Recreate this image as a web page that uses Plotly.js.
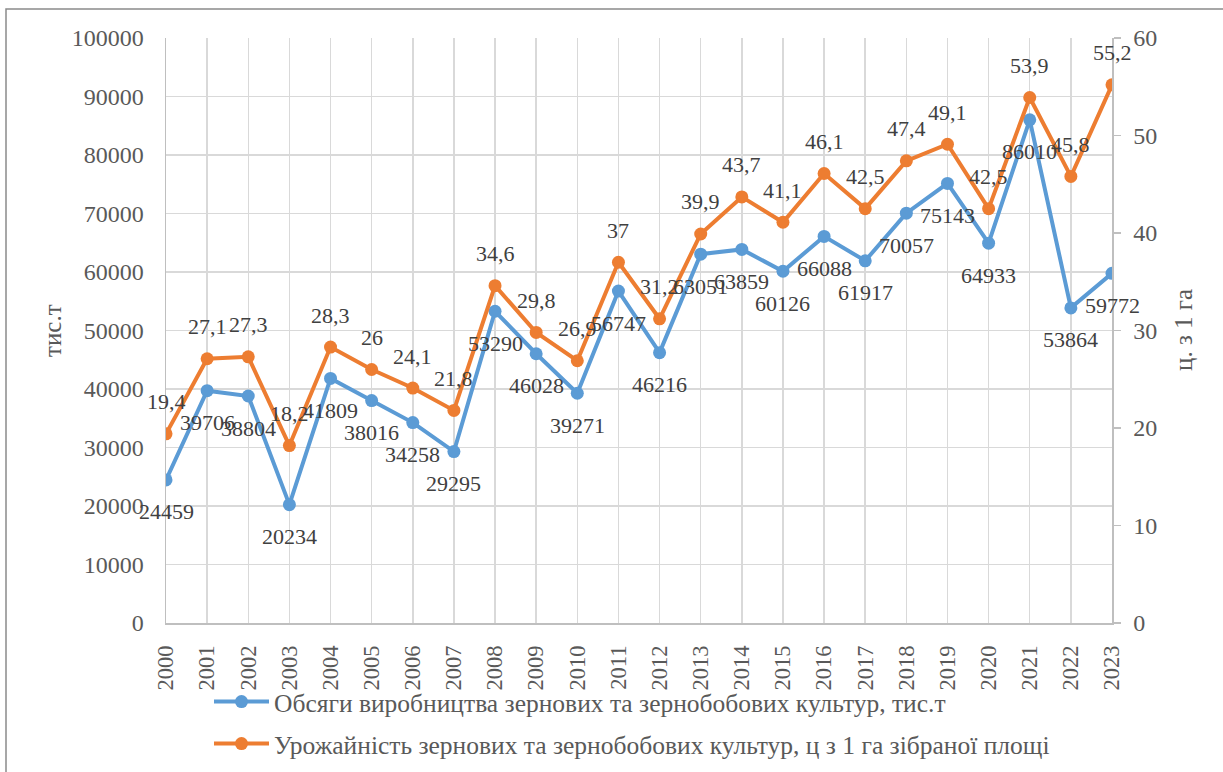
<!DOCTYPE html>
<html>
<head>
<meta charset="utf-8">
<script src="https://cdn.plot.ly/plotly-3.0.1.min.js"></script>
<style>html,body{margin:0;padding:0;background:#fff;}#chart{width:1223px;height:772px;}</style>
</head>
<body>
<div id="chart"></div>
<script>
const years = ['2000','2001','2002','2003','2004','2005','2006','2007','2008','2009','2010','2011','2012','2013','2014','2015','2016','2017','2018','2019','2020','2021','2022','2023'];
const production = [24459,39706,38804,20234,41809,38016,34258,29295,53290,46028,39271,56747,46216,63051,63859,60126,66088,61917,70057,75143,64933,86010,53864,59772];
const yieldHa = [19.4,27.1,27.3,18.2,28.3,26,24.1,21.8,34.6,29.8,26.9,37,31.2,39.9,43.7,41.1,46.1,42.5,47.4,49.1,42.5,53.9,45.8,55.2];
const nameProduction = 'Обсяги виробництва зернових та зернобобових культур, тис.т';
const nameYield = 'Урожайність зернових та зернобобових культур, ц з 1 га зібраної площі';
const leftTitle = 'тис.т';
const rightTitle = 'ц. з 1 га';

const W = 1223, H = 772;
const M = {l: 166, r: 111, t: 38, b: 149, autoexpand: false};
const PW = W - M.l - M.r, PH = H - M.t - M.b;
const px2x = p => (p - M.l) / PW;
const py2y = p => (H - M.b - p) / PH;

const FONT = 'Liberation Serif';
const BLUE = '#5B9BD5', ORANGE = '#ED7D31';
const LABEL_FONT = {family: FONT, size: 22, color: '#404040'};
const TITLE_FONT = {family: FONT, size: 25, color: '#595959'};

const traces = [
  {x: years, y: production, name: nameProduction, type: 'scatter', mode: 'lines+markers',
   line: {color: BLUE, width: 4}, marker: {color: BLUE, size: 13}, yaxis: 'y', legend: 'legend'},
  {x: years, y: yieldHa, name: nameYield, type: 'scatter', mode: 'lines+markers',
   line: {color: ORANGE, width: 4}, marker: {color: ORANGE, size: 13}, yaxis: 'y2', legend: 'legend2'}
];

const annotations = [];
years.forEach((yr, i) => {
  annotations.push({x: i, y: production[i], xref: 'x', yref: 'y', text: String(production[i]),
    showarrow: false, yshift: -32, font: LABEL_FONT});
  annotations.push({x: i, y: yieldHa[i], xref: 'x', yref: 'y2', text: String(yieldHa[i]).replace('.', ','),
    showarrow: false, yshift: 32, font: LABEL_FONT});
});
// axis titles
annotations.push({xref: 'paper', yref: 'paper', x: px2x(52), y: py2y(331), text: leftTitle,
  textangle: -90, showarrow: false, xanchor: 'center', yanchor: 'middle', font: TITLE_FONT});
annotations.push({xref: 'paper', yref: 'paper', x: px2x(1183), y: py2y(330), text: rightTitle,
  textangle: -90, showarrow: false, xanchor: 'center', yanchor: 'middle', font: TITLE_FONT});

const layout = {
  width: W, height: H,
  margin: M,
  paper_bgcolor: '#ffffff', plot_bgcolor: '#ffffff',
  font: {family: FONT, size: 22, color: '#595959'},
  showlegend: true,
  xaxis: {
    type: 'category', range: [0, years.length - 1],
    showgrid: true, gridcolor: '#d9d9d9', gridwidth: 1.5,
    showline: true, linecolor: '#bfbfbf', linewidth: 1.5,
    ticks: '', tickangle: -90, ticklabelstandoff: 12,
    tickfont: {family: FONT, size: 22.5, color: '#595959'},
    zeroline: false, fixedrange: true
  },
  yaxis: {
    range: [0, 100000], dtick: 10000, tick0: 0, tickformat: 'd',
    showgrid: true, gridcolor: '#d9d9d9', gridwidth: 1.5,
    showline: true, linecolor: '#bfbfbf', linewidth: 1.5,
    ticks: '', ticklabelstandoff: 16,
    tickfont: {family: FONT, size: 24, color: '#595959'},
    zeroline: false
  },
  yaxis2: {
    overlaying: 'y', side: 'right',
    range: [0, 60], dtick: 10, tick0: 0,
    showgrid: false,
    showline: true, linecolor: '#bfbfbf', linewidth: 1.5,
    ticks: 'outside', ticklen: 7, tickcolor: '#bfbfbf', tickwidth: 1.5, ticklabelstandoff: 8,
    tickfont: {family: FONT, size: 24, color: '#595959'},
    zeroline: false
  },
  legend: {
    x: px2x(209), y: py2y(702), xanchor: 'left', yanchor: 'middle',
    font: {family: FONT, size: 25.5, color: '#595959'}, bgcolor: 'rgba(0,0,0,0)', itemwidth: 55
  },
  legend2: {
    x: px2x(209), y: py2y(744), xanchor: 'left', yanchor: 'middle',
    font: {family: FONT, size: 25.5, color: '#595959'}, bgcolor: 'rgba(0,0,0,0)', itemwidth: 55
  },
  annotations: annotations,
  shapes: [{
    type: 'rect', xref: 'paper', yref: 'paper',
    x0: px2x(6), x1: px2x(1240), y0: py2y(790), y1: py2y(9),
    line: {color: '#8a8a8a', width: 1.5}, layer: 'below'
  }]
};

Plotly.newPlot('chart', traces, layout, {staticPlot: true, displayModeBar: false});
</script>
</body>
</html>
